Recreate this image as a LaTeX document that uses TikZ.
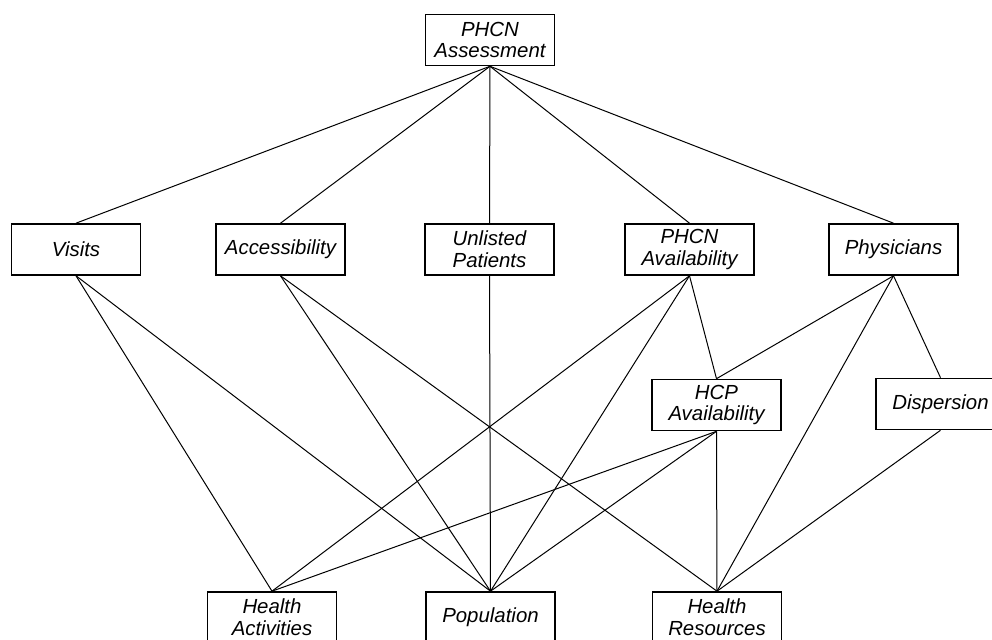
\documentclass[tikz,border=0pt]{standalone}
\usepackage{fontspec}
\setmainfont{Liberation Sans}
\usepackage{tikz}
\tikzset{crit/.style={draw,thick,minimum width=64.5pt,minimum height=25.5pt,inner sep=0pt,align=center,
    font=\itshape\fontsize{10.2}{10.9}\selectfont},
  link/.style={line width=0.5pt}}

\begin{document}
\begin{tikzpicture}[x=0.5pt,y=-0.5pt]
\useasboundingbox (0,0) rectangle (992,640); \clip (0,0) rectangle (992,640);
\node[crit] (asmt) at (490,40) {PHCN\\Assessment};
\node[crit] (visits) at (76,249.5) {Visits}; \node[crit] (access) at (280.5,249.5) {Accessibility};
\node[crit] (unlisted) at (489.5,249.5) {Unlisted\\Patients}; \node[crit] (phcnav) at (689.5,249.5) {PHCN\\Availability};
\node[crit] (phys) at (893.5,249.5) {Physicians};
\node[crit] (hcpav) at (716.5,405) {HCP\\Availability}; \node[crit] (disp) at (940.5,404) {Dispersion};
\node[crit] (hact) at (272,617.5) {Health\\Activities}; \node[crit] (pop) at (490.5,617.5) {Population};
\node[crit] (hres) at (717,617.5) {Health\\Resources};
\foreach \k in {visits,access,unlisted,phcnav,phys} \draw[link] (asmt.south) -- (\k.north);
\foreach \a/\b in {visits/hact,visits/pop,access/pop,access/hres,unlisted/pop,phcnav/hact,phcnav/pop,phcnav/hcpav,
  phys/hcpav,phys/disp,phys/hres,hcpav/hact,hcpav/pop,hcpav/hres,disp/hres}
  \draw[link] (\a.south) -- (\b.north);
\end{tikzpicture}
\end{document}
